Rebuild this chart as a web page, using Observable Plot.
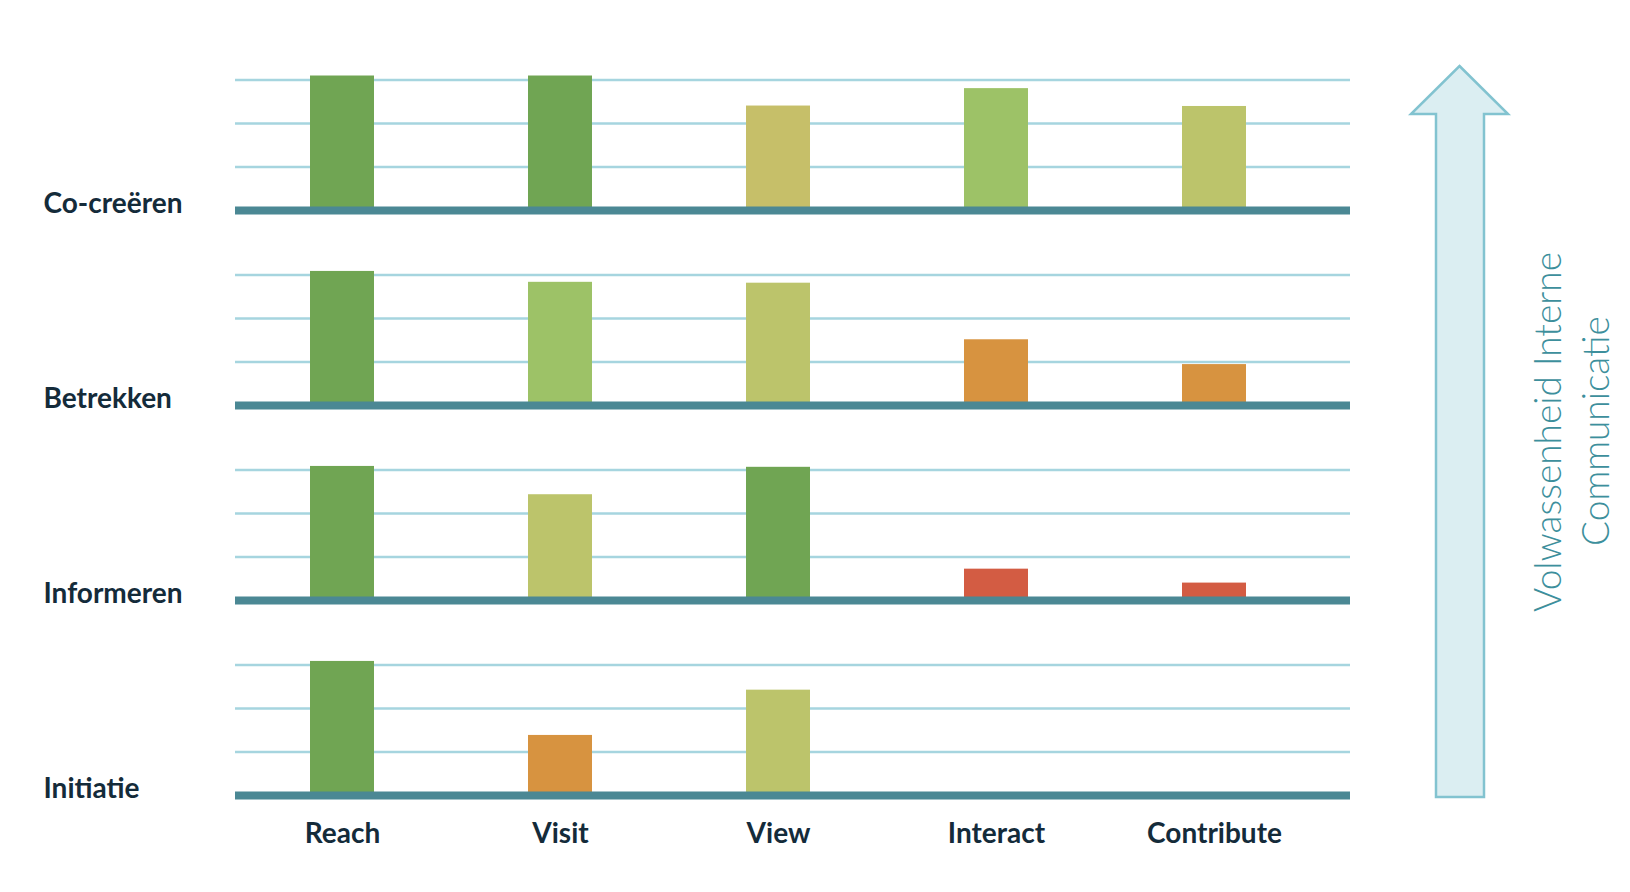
<!DOCTYPE html>
<html>
<head>
<meta charset="utf-8">
<script src="https://cdn.jsdelivr.net/npm/d3@7"></script>
<script src="https://cdn.jsdelivr.net/npm/@observablehq/plot@0.6"></script>
<style>
  html, body { margin: 0; padding: 0; background: #ffffff; }
  #wrap { position: relative; width: 1630px; height: 892px; overflow: hidden; }
  #overlay { position: absolute; left: 0; top: 0; pointer-events: none; }
</style>
</head>
<body>
<div id="wrap"><div id="chart"></div><svg id="overlay" width="1630" height="892"></svg></div>
<script>
// ---- data ----
const levels = ["Co-creëren", "Betrekken", "Informeren", "Initiatie"];
const stages = ["Reach", "Visit", "View", "Interact", "Contribute"];

const coCreerenScores  = [3.09, 3.09, 2.40, 2.80, 2.39];
const betrekkenScores  = [3.08, 2.83, 2.81, 1.51, 0.94];
const informerenScores = [3.08, 2.43, 3.06, 0.72, 0.40];
const initiatieScores  = [3.08, 1.38, 2.42, 0, 0];

const coCreerenRatings  = ["sterk", "sterk", "voldoende", "goed", "redelijk"];
const betrekkenRatings  = ["sterk", "goed", "redelijk", "matig", "matig"];
const informerenRatings = ["sterk", "redelijk", "sterk", "zwak", "zwak"];
const initiatieRatings  = ["sterk", "matig", "redelijk", null, null];

const ratingDomain = ["sterk", "goed", "redelijk", "voldoende", "matig", "zwak"];
const ratingColors = ["#70a553", "#9dc267", "#bcc46b", "#c6bf69", "#d79340", "#d35c43"];

const gridTicks = [1, 2, 3];
const arrowLines = ["Volwassenheid Interne", "Communicatie"];

// build table
const scoreRows = [coCreerenScores, betrekkenScores, informerenScores, initiatieScores];
const ratingRows = [coCreerenRatings, betrekkenRatings, informerenRatings, initiatieRatings];
const data = [];
levels.forEach((lvl, i) => {
  stages.forEach((st, j) => {
    if (scoreRows[i][j] > 0) data.push({level: lvl, stage: st, value: scoreRows[i][j], rating: ratingRows[i][j]});
  });
});

const textColor = "#142b3a";

const chart = Plot.plot({
  width: 1630,
  height: 870,
  marginLeft: 235,
  marginRight: 280,
  marginTop: 13,
  marginBottom: 74,
  style: {fontFamily: "Lato, 'Open Sans', sans-serif", background: "white", color: textColor, overflow: "visible"},
  x: {domain: stages, paddingInner: 0.707, paddingOuter: 0.405, align: 0.418, label: null},
  y: {domain: [0, 4.48], axis: null},
  fy: {domain: levels, padding: 0, axis: null, label: null},
  color: {domain: ratingDomain, range: ratingColors},
  marks: [
    Plot.ruleY(gridTicks, {stroke: "#a6d5df", strokeWidth: 2.5}),
    Plot.barY(data, {x: "stage", y: "value", fy: "level", fill: "rating"}),
    Plot.ruleY([0], {stroke: "#4b8894", strokeWidth: 8}),
    Plot.axisX({tickSize: 0, tickPadding: 28, fontSize: 28, fontWeight: 700, fill: textColor, label: null}),
    Plot.text(levels, {fy: d => d, text: d => d, frameAnchor: "bottom-left", textAnchor: "start",
      dx: -192, dy: 2, fontSize: 28, fontWeight: 700, fill: textColor})
  ]
});
document.getElementById("chart").appendChild(chart);

// ---- decorative arrow on the right ----
const ov = d3.select("#overlay");
const tipX = 1459.5, tipY = 66, wingY = 114, wingL = 1411, wingR = 1508, shaftL = 1436, shaftR = 1484, bottom = 797;
ov.append("polygon")
  .attr("points", [[tipX, tipY], [wingR, wingY], [shaftR, wingY], [shaftR, bottom], [shaftL, bottom], [shaftL, wingY], [wingL, wingY]].map(p => p.join(",")).join(" "))
  .attr("fill", "#dbeef2")
  .attr("stroke", "#82c3d0")
  .attr("stroke-width", 2.5)
  .attr("stroke-linejoin", "miter");

const centers = [[1546, 432], [1594, 431]];
arrowLines.forEach((t, i) => {
  ov.append("text")
    .attr("transform", `translate(${centers[i][0]},${centers[i][1]}) rotate(-90)`)
    .attr("text-anchor", "middle")
    .attr("dominant-baseline", "central")
    .attr("font-family", "Lato, 'Open Sans', sans-serif")
    .attr("font-weight", 300)
    .attr("font-size", 37)
    .attr("fill", "#3d8f9c")
    .text(t);
});
</script>
</body>
</html>
